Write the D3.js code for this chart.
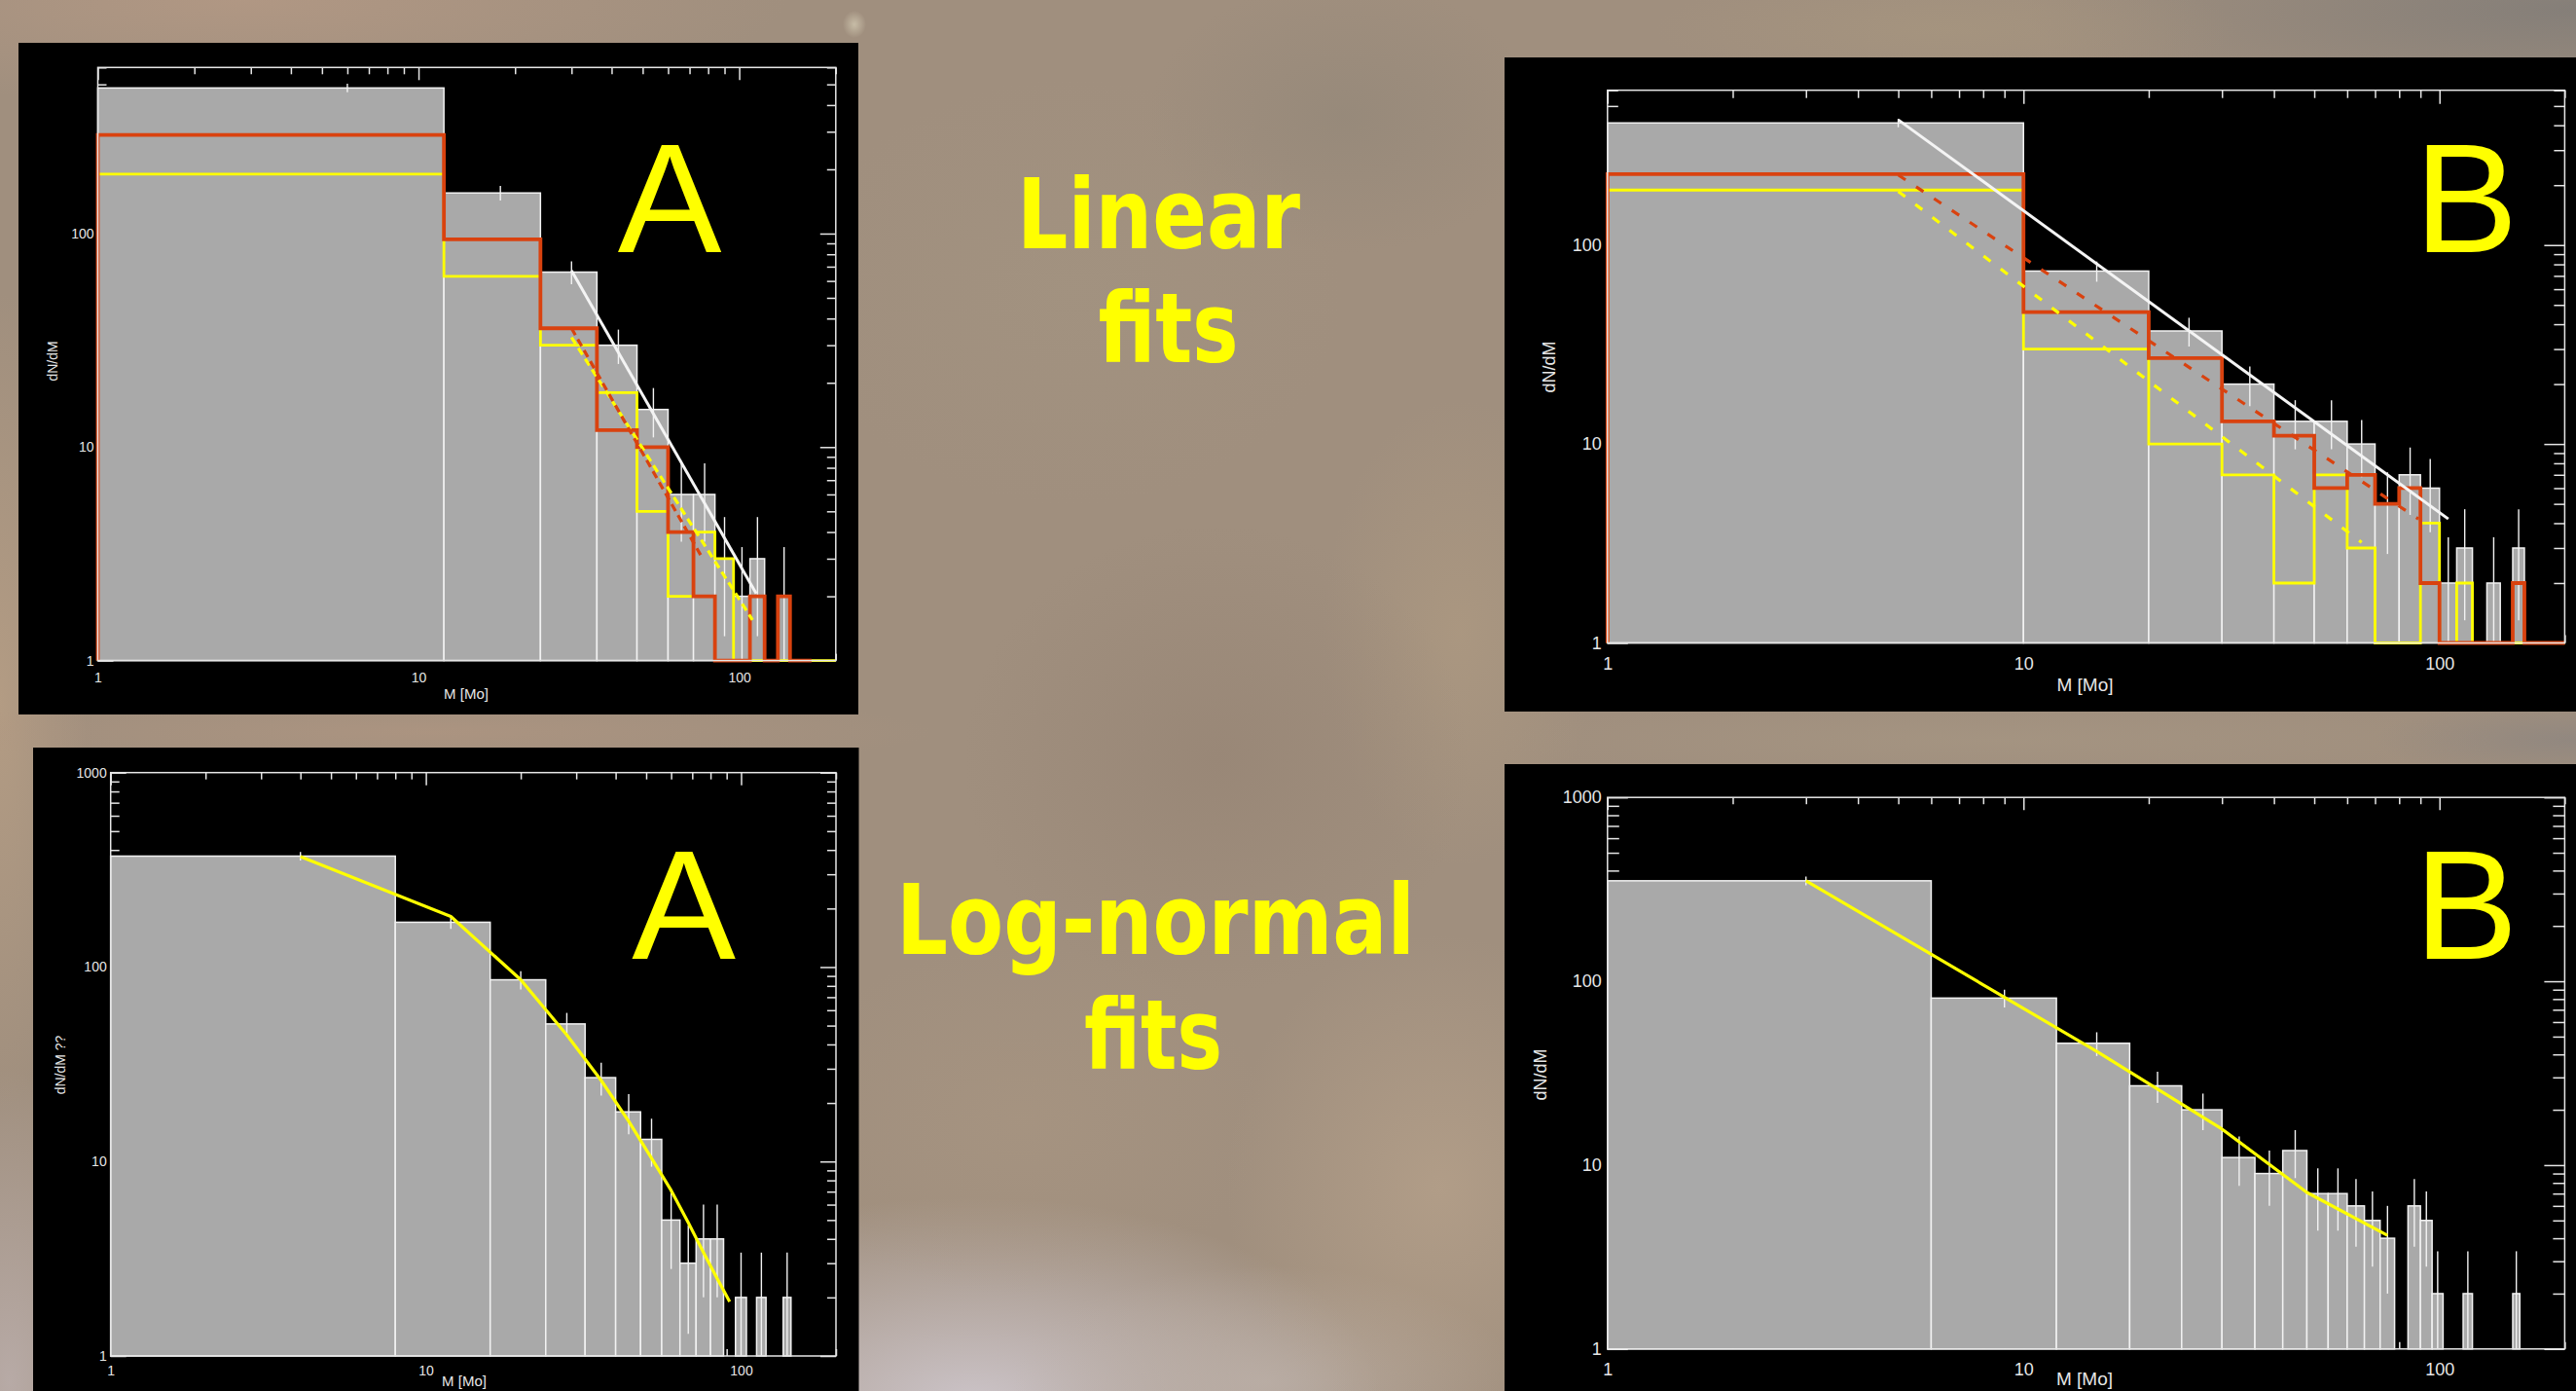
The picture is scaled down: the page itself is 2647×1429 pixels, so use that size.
<!DOCTYPE html>
<html>
<head>
<meta charset="utf-8">
<title>Mass functions - linear and log-normal fits</title>
<script src="https://cdn.jsdelivr.net/npm/d3@7"></script>
<style>
    html, body { margin: 0; padding: 0; background: #a08f7e; overflow: hidden; }
    svg { display: block; }
</style>
</head>
<body>
<div id="chart"></div>
<script>
// ---- data ----
// top left (A, linear fits): bins of 12 Mo
var edgesA = [0, 12, 24, 36, 48, 60, 72, 84, 96, 108, 120, 132, 144, 156, 168, 180, 192, 204];
var histA = [481, 155, 66, 30, 15, 6, 6, 3, 2, 3, 0, 2, 0, 0, 0, 0, 0];
var errA = [22, 12, 8.1, 5.5, 3.9, 2.4, 2.4, 1.7, 1.4, 1.7, 0, 1.4, 0, 0, 0, 0, 0];
var redA = [290, 94, 36, 12, 10, 4, 2, 0, 0, 2, 0, 2, 0, 0];
var yellowA = [190, 63, 30, 18, 5, 2, 4, 3, 0, 0, 0, 0, 0, 0, 0, 0, 0];
var whiteLineA = [[30, 67], [113, 2.06]];
var redDashA = [[30, 36], [76, 3.1]];
var yellowDashA = [[30, 32.6], [110, 1.55]];

// top right (B, linear fits): bins of 10 Mo
var edgesB = [0, 10, 20, 30, 40, 50, 60, 70, 80, 90, 100, 110, 120, 130, 140, 150, 160, 170, 180, 190, 200];
var histB = [411, 74, 37, 20, 13, 13, 10, 5, 7, 6, 2, 3, 0, 2, 0, 3, 0, 0, 0, 0];
var errB = [20, 8.6, 6.1, 4.5, 3.6, 3.6, 3.2, 2.2, 2.6, 2.4, 1.4, 1.7, 0, 1.4, 0, 1.7, 0, 0, 0, 0];
var redB = [227, 46, 27, 13, 11, 6, 7, 5, 6, 2, 0, 0, 0, 0, 0, 2, 0, 0, 0, 0];
var yellowB = [189, 30, 10, 7, 2, 7, 3, 0, 0, 4, 0, 2, 0, 0, 0, 0, 0, 0, 0, 0];
var whiteLineB = [[5, 426], [105, 4.2]];
var redDashB = [[5, 225], [89, 4.2]];
var yellowDashB = [[5, 186], [65, 3.2]];

// bottom left (A, log-normal fit): bins of 8 Mo
var edgesC = [0, 8, 16, 24, 32, 40, 48, 56, 64, 72, 80, 88, 96, 104, 112, 120, 128, 136, 144];
var histC = [372, 170, 86, 51, 27, 18, 13, 5, 3, 4, 4, 0, 2, 0, 2, 0, 0, 2];
var errC = [19, 13, 9.3, 7.1, 5.2, 4.2, 3.6, 2.2, 1.7, 2, 2, 0, 1.4, 0, 1.4, 0, 0, 1.4];
var fitMassC = [4, 12, 20, 28, 36, 44, 52, 60, 68, 76, 84, 92];
var fitC = [370, 182, 86, 44.7, 26.1, 16.1, 10.4, 7.1, 4.85, 3.4, 2.5, 1.9];

// bottom right (B, log-normal fit): bins of 6 Mo
var edgesD = [0, 6, 12, 18, 24, 30, 36, 42, 48, 54, 60, 66, 72, 78, 84, 90, 96, 102, 108, 114, 120, 126, 132, 138, 144, 150, 156];
var histD = [352, 81, 46, 27, 20, 11, 9, 12, 7, 7, 6, 5, 4, 0, 6, 5, 2, 0, 0, 2, 0, 0, 0, 0, 0, 2];
var errD = [19, 9, 6.8, 5.2, 4.5, 3.3, 3, 3.5, 2.6, 2.6, 2.4, 2.2, 2, 0, 2.4, 2.2, 1.4, 0, 0, 1.4, 0, 0, 0, 0, 0, 1.4];
var fitMassD = [3, 15, 30, 48, 75];
var fitD = [352, 41.5, 15.7, 7.1, 4.15];

// axis ticks
var majorX = [1, 10, 100];
var minorX = [2, 3, 4, 5, 6, 7, 8, 9, 20, 30, 40, 50, 60, 70, 80, 90, 200];
var majorY = [1, 10, 100, 1000];
var minorY = [2, 3, 4, 5, 6, 7, 8, 9, 20, 30, 40, 50, 60, 70, 80, 90, 200, 300, 400, 500, 600, 700, 800, 900];

var W = 2647, H = 1429;
var RED = '#d9420f', YELLOW = '#ffff00', FG = '#e6e6e6';

var panels = [
    {box: [19, 44, 882, 734], plot: [100.5, 69.3, 858.8, 678.6], ymax: 600, font: 14,
        tickX: [13, 7], tickY: [16, 9], padX: 12.5, padY: 4,
        ylabel: 'dN/dM', ylab: [54.5, 371], xlab: [479, 718], letter: 'A', let: [688, 259],
        edges: edgesA, hist: histA, err: errA, red: redA, yellow: yellowA,
        white: whiteLineA, redDash: redDashA, yellowDash: yellowDashA, dash: '8,5'},
    {box: [1546, 59, 2647, 731], plot: [1651.8, 92.7, 2635.4, 660.5], ymax: 600, font: 18,
        tickX: [14, 8], tickY: [21, 11], padX: 14.7, padY: 6,
        ylabel: 'dN/dM', ylab: [1592, 377], xlab: [2142.5, 710], letter: 'B', let: [2534, 259],
        edges: edgesB, hist: histB, err: errB, red: redB, yellow: yellowB,
        white: whiteLineB, redDash: redDashB, yellowDash: yellowDashB, dash: '9,13'},
    {box: [34, 768, 882.5, 1429], plot: [113.7, 793.7, 859, 1393], ymax: 1000, font: 14,
        tickX: [13, 7], tickY: [16, 9], padX: 10.5, padY: 4,
        ylabel: 'dN/dM ??', ylab: [62, 1094], xlab: [477, 1424], letter: 'A', let: [702.6, 985],
        edges: edgesC, hist: histC, err: errC, fitM: fitMassC, fit: fitC},
    {box: [1546, 785, 2647, 1429], plot: [1651.8, 819.2, 2635.4, 1385.8], ymax: 1000, font: 18,
        tickX: [13, 7], tickY: [21, 12], padX: 14.7, padY: 6,
        ylabel: 'dN/dM', ylab: [1583, 1104], xlab: [2142, 1423], letter: 'B', let: [2534, 985],
        edges: edgesD, hist: histD, err: errD, fitM: fitMassD, fit: fitD}
];

// soft blotches for the blurred nebula behind the plots
var blobs = [
    {cx: 250, cy: 0, rx: 560, ry: 110, c: '#b29884', o: 0.9},
    {cx: 0, cy: 720, rx: 90, ry: 420, c: '#b59d84', o: 0.9},
    {cx: 440, cy: 752, rx: 520, ry: 40, c: '#ae9581', o: 0.8},
    {cx: 1000, cy: 1440, rx: 420, ry: 210, c: '#cbc3c7', o: 1},
    {cx: 1300, cy: 1420, rx: 260, ry: 120, c: '#bcb0a8', o: 0.8},
    {cx: 1480, cy: 1220, rx: 220, ry: 260, c: '#bca68e', o: 0.6},
    {cx: 1500, cy: 650, rx: 140, ry: 240, c: '#b19c82', o: 0.6},
    {cx: 2640, cy: 10, rx: 560, ry: 120, c: '#827d78', o: 0.9},
    {cx: 2000, cy: 30, rx: 300, ry: 60, c: '#a8977f', o: 0.6},
    {cx: 2050, cy: 760, rx: 520, ry: 40, c: '#a59582', o: 0.8},
    {cx: 2640, cy: 760, rx: 200, ry: 40, c: '#8e8680', o: 0.8},
    {cx: 1250, cy: 780, rx: 260, ry: 240, c: '#968474', o: 0.7},
    {cx: 1050, cy: 1150, rx: 250, ry: 180, c: '#a99682', o: 0.6},
    {cx: 1100, cy: 300, rx: 280, ry: 220, c: '#a39481', o: 0.6},
    {cx: 1380, cy: 120, rx: 200, ry: 140, c: '#918678', o: 0.6},
    {cx: 10, cy: 1420, rx: 140, ry: 320, c: '#bdb1b0', o: 0.8},
    {cx: 878, cy: 25, rx: 12, ry: 14, c: '#d8d0b8', o: 0.7}
];

var svg = d3.select('#chart').append('svg')
    .attr('width', W)
    .attr('height', H);

function drawBackground() {
    var defs = svg.append('defs');
    svg.append('rect').attr('width', W).attr('height', H).attr('fill', '#a08f7e');
    blobs.forEach(function (b, i) {
        var gr = defs.append('radialGradient').attr('id', 'blob' + i);
        gr.append('stop').attr('offset', 0).attr('stop-color', b.c).attr('stop-opacity', b.o);
        gr.append('stop').attr('offset', 1).attr('stop-color', b.c).attr('stop-opacity', 0);
        svg.append('ellipse')
            .attr('cx', b.cx).attr('cy', b.cy)
            .attr('rx', b.rx).attr('ry', b.ry)
            .attr('fill', 'url(#blob' + i + ')');
    });
}

function stepPoints(edges, vals) {
    var pts = [[edges[0], 0]];
    vals.forEach(function (v, i) {
        pts.push([edges[i], v]);
        pts.push([edges[i + 1], v]);
    });
    pts.push([edges[vals.length], 0]);
    return pts;
}

function drawAxes(g, x, y, p) {
    var L = p.plot[0], T = p.plot[1], R = p.plot[2], B = p.plot[3];
    var yMajor = majorY.filter(function (v) { return v <= p.ymax; });
    var yMinor = minorY.filter(function (v) { return v <= p.ymax; });
    var fmt = d3.format('d');

    var axes = [
        [d3.axisTop(x).tickValues(majorX).tickSizeInner(-p.tickX[0]).tickFormat(''), 0, T],
        [d3.axisTop(x).tickValues(minorX).tickSizeInner(-p.tickX[1]).tickFormat(''), 0, T],
        [d3.axisBottom(x).tickValues(majorX).tickSizeInner(-p.tickX[0]).tickPadding(p.padX).tickFormat(fmt), 0, B],
        [d3.axisBottom(x).tickValues(minorX).tickSizeInner(-p.tickX[1]).tickFormat(''), 0, B],
        [d3.axisLeft(y).tickValues(yMajor).tickSizeInner(-p.tickY[0]).tickPadding(p.padY).tickFormat(fmt), L, 0],
        [d3.axisLeft(y).tickValues(yMinor).tickSizeInner(-p.tickY[1]).tickFormat(''), L, 0],
        [d3.axisRight(y).tickValues(yMajor).tickSizeInner(-p.tickY[0]).tickFormat(''), R, 0],
        [d3.axisRight(y).tickValues(yMinor).tickSizeInner(-p.tickY[1]).tickFormat(''), R, 0]
    ];
    axes.forEach(function (a) {
        var ag = g.append('g')
            .attr('transform', 'translate(' + a[1] + ',' + a[2] + ')')
            .call(a[0].tickSizeOuter(0));
        ag.select('.domain').remove();
        ag.attr('color', FG)
            .attr('font-family', '"Liberation Sans", Arial, sans-serif')
            .attr('font-size', p.font);
        ag.selectAll('line').attr('stroke-width', 1.5);
    });
}

function drawPanel(p) {
    var x = d3.scaleLog().domain([1, 200]).range([p.plot[0], p.plot[2]]).clamp(true);
    var y = d3.scaleLog().domain([1, p.ymax]).range([p.plot[3], p.plot[1]]).clamp(true);
    var xe = function (m) { return x(Math.max(m, 1)); };
    var yv = function (v) { return v > 0 ? y(Math.max(v, 1)) : y(1); };

    svg.append('rect')
        .attr('x', p.box[0]).attr('y', p.box[1])
        .attr('width', p.box[2] - p.box[0]).attr('height', p.box[3] - p.box[1])
        .attr('fill', '#000');

    var g = svg.append('g');
    drawAxes(g, x, y, p);

    var bins = p.hist.map(function (v, i) {
        return {v: v, e: p.err[i], lo: p.edges[i], hi: p.edges[i + 1]};
    }).filter(function (d) { return d.v > 0; });

    g.selectAll('rect.bar')
        .data(bins)
        .enter().append('rect')
        .attr('class', 'bar')
        .attr('x', function (d) { return xe(d.lo); })
        .attr('width', function (d) { return xe(d.hi) - xe(d.lo); })
        .attr('y', function (d) { return yv(d.v); })
        .attr('height', function (d) { return p.plot[3] - yv(d.v); })
        .attr('fill', '#a9a9a9')
        .attr('stroke', '#f2f2f2')
        .attr('stroke-width', 1.5);

    // poisson error bars at bin centres
    g.selectAll('line.err')
        .data(bins)
        .enter().append('line')
        .attr('class', 'err')
        .attr('x1', function (d) { return xe((d.lo + d.hi) / 2); })
        .attr('x2', function (d) { return xe((d.lo + d.hi) / 2); })
        .attr('y1', function (d) { return yv(d.v + d.e); })
        .attr('y2', function (d) { return yv(d.v - d.e); })
        .attr('stroke', '#f2f2f2')
        .attr('stroke-width', 1.4);

    var line = d3.line()
        .x(function (d) { return xe(d[0]); })
        .y(function (d) { return yv(d[1]); });

    if (p.red) {
        g.append('path')
            .attr('d', line(stepPoints(p.edges, p.yellow)))
            .attr('fill', 'none').attr('stroke', YELLOW).attr('stroke-width', 2.8);
        g.append('path')
            .attr('d', line(stepPoints(p.edges, p.red)))
            .attr('fill', 'none').attr('stroke', RED).attr('stroke-width', 3.8);
        g.append('path')
            .attr('d', line(p.yellowDash))
            .attr('fill', 'none').attr('stroke', YELLOW).attr('stroke-width', 3.2)
            .attr('stroke-dasharray', p.dash);
        g.append('path')
            .attr('d', line(p.redDash))
            .attr('fill', 'none').attr('stroke', RED).attr('stroke-width', 3.2)
            .attr('stroke-dasharray', p.dash);
        g.append('path')
            .attr('d', line(p.white))
            .attr('fill', 'none').attr('stroke', '#f4f4f4').attr('stroke-width', 3);
    } else {
        g.append('path')
            .attr('d', line(p.fitM.map(function (m, i) { return [m, p.fit[i]]; })))
            .attr('fill', 'none').attr('stroke', YELLOW).attr('stroke-width', 3.2)
            .attr('stroke-linejoin', 'round');
    }

    // plot frame
    g.append('rect')
        .attr('x', p.plot[0]).attr('y', p.plot[1])
        .attr('width', p.plot[2] - p.plot[0]).attr('height', p.plot[3] - p.plot[1])
        .attr('fill', 'none').attr('stroke', FG).attr('stroke-width', 1.5);

    g.append('text')
        .attr('x', p.xlab[0]).attr('y', p.xlab[1])
        .attr('text-anchor', 'middle')
        .attr('font-family', '"Liberation Sans", Arial, sans-serif')
        .attr('font-size', p.font + 1)
        .attr('fill', FG)
        .text('M  [Mo]');

    g.append('text')
        .attr('transform', 'translate(' + p.ylab[0] + ',' + p.ylab[1] + ') rotate(-90)')
        .attr('text-anchor', 'middle')
        .attr('dy', '0.35em')
        .attr('font-family', '"Liberation Sans", Arial, sans-serif')
        .attr('font-size', p.font)
        .attr('fill', FG)
        .text(p.ylabel);

    g.append('text')
        .attr('x', p.let[0]).attr('y', p.let[1])
        .attr('text-anchor', 'middle')
        .attr('font-family', '"Liberation Sans", Arial, sans-serif')
        .attr('font-size', 160)
        .attr('fill', YELLOW)
        .text(p.letter);
}

drawBackground();
panels.forEach(drawPanel);

// captions between the columns
var captions = [
    {t: 'Linear', x: 1045, y: 255, w: 291},
    {t: 'fits', x: 1128.5, y: 372, w: 144},
    {t: 'Log-normal', x: 921, y: 980, w: 533},
    {t: 'fits', x: 1114, y: 1098, w: 142}
];
svg.selectAll('text.caption')
    .data(captions)
    .enter().append('text')
    .attr('class', 'caption')
    .attr('x', function (d) { return d.x; })
    .attr('y', function (d) { return d.y; })
    .attr('textLength', function (d) { return d.w; })
    .attr('lengthAdjust', 'spacingAndGlyphs')
    .attr('font-family', '"DejaVu Sans", Verdana, sans-serif')
    .attr('font-weight', 'bold')
    .attr('font-size', 100)
    .attr('fill', YELLOW)
    .text(function (d) { return d.t; });
</script>
</body>
</html>
